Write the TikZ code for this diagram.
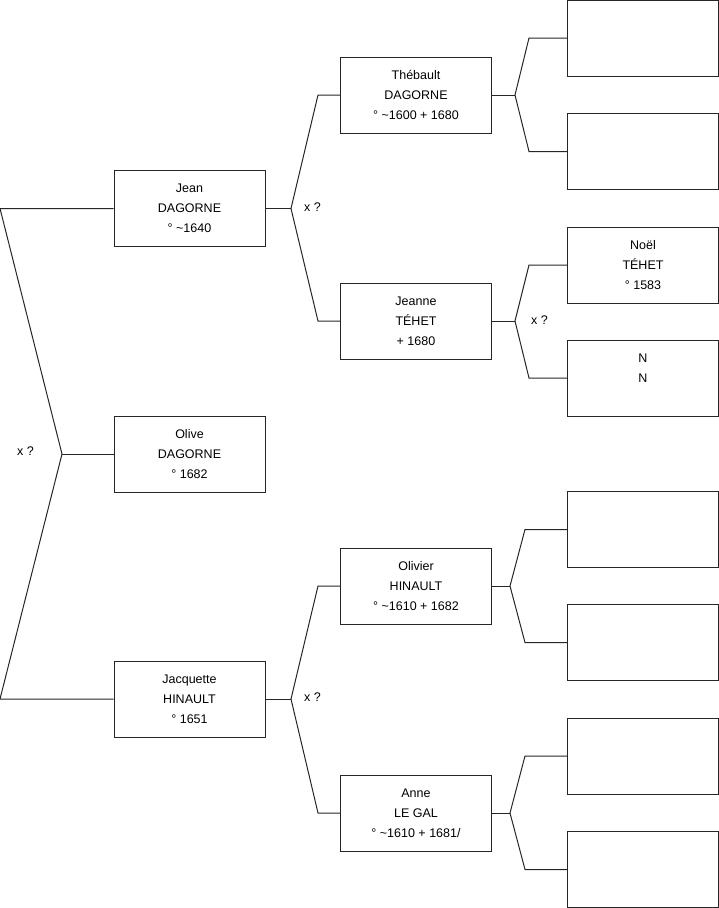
\documentclass[tikz,border=0pt]{standalone}
\usepackage{fontspec}
\setmainfont{Liberation Sans}
\usetikzlibrary{calc}
\begin{document}
\begin{tikzpicture}[x=1pt,y=-1pt,
  person/.style={draw=black!85, line width=1pt, minimum width=151pt, minimum height=76pt,
    inner sep=0pt, align=center, font=\fontsize{12.5}{20}\selectfont},
  link/.style={draw=black!85, line width=1pt},
  xlabel/.style={anchor=west, inner sep=0pt, font=\fontsize{12.5}{15}\selectfont}]
\useasboundingbox (0,0) rectangle (719,908);
% generation 1
\node[person] (olive) at (189.5,454) {Olive\\DAGORNE\\° 1682};
% generation 2
\node[person] (jean) at (189.5,208.5) {Jean\\DAGORNE\\° \textasciitilde1640};
\node[person] (jacq) at (189.5,699) {Jacquette\\HINAULT\\° 1651};
% generation 3
\node[person] (theb) at (416,95) {Thébault\\DAGORNE\\° \textasciitilde1600 + 1680};
\node[person] (jeanne) at (416,321) {Jeanne\\TÉHET\\+ 1680};
\node[person] (olivier) at (416,586) {Olivier\\HINAULT\\° \textasciitilde1610 + 1682};
\node[person] (anne) at (416,813) {Anne\\LE GAL\\° \textasciitilde1610 + 1681/};
% generation 4
\node[person] (r1) at (643,38) {};
\node[person] (r2) at (643,151.5) {};
\node[person] (r3) at (643,265) {Noël\\TÉHET\\° 1583};
\node[person] (r4) at (643,378) {N\\N\\\mbox{}};
\node[person] (r5) at (643,529.5) {};
\node[person] (r6) at (643,642.5) {};
\node[person] (r7) at (643,756) {};
\node[person] (r8) at (643,869.5) {};
% fork points
\coordinate (f0) at (62,454);
\coordinate (a0) at (0,208.5);
\coordinate (b0) at (0,699);
\coordinate (f1) at (291,208.5);
\coordinate (f2) at (291,699);
\coordinate (f3) at (515,95);
\coordinate (f4) at (515,321);
\coordinate (f5) at (510,586);
\coordinate (f6) at (510,813);
% connectors
\draw[link] (jean.west) -- (a0) -- (f0) -- (b0) -- (jacq.west);
\draw[link] (olive.west) -- (f0);
\draw[link] (jean.east) -- (f1);
\draw[link] (theb.west) -- ++(-22,0) -- (f1) -- ($(jeanne.west)+(-22,0)$) -- (jeanne.west);
\draw[link] (jacq.east) -- (f2);
\draw[link] (olivier.west) -- ++(-22,0) -- (f2) -- ($(anne.west)+(-22,0)$) -- (anne.west);
\draw[link] (theb.east) -- (f3);
\draw[link] (r1.west) -- ++(-38,0) -- (f3) -- ($(r2.west)+(-38,0)$) -- (r2.west);
\draw[link] (jeanne.east) -- (f4);
\draw[link] (r3.west) -- ++(-38,0) -- (f4) -- ($(r4.west)+(-38,0)$) -- (r4.west);
\draw[link] (olivier.east) -- (f5);
\draw[link] (r5.west) -- ++(-42,0) -- (f5) -- ($(r6.west)+(-42,0)$) -- (r6.west);
\draw[link] (anne.east) -- (f6);
\draw[link] (r7.west) -- ++(-42,0) -- (f6) -- ($(r8.west)+(-42,0)$) -- (r8.west);
% labels
\node[xlabel] (m0) at (17,451) {x ?};
\node[xlabel] (m1) at (304,207) {x ?};
\node[xlabel] (m2) at (304,697) {x ?};
\node[xlabel] (m3) at (531,320) {x ?};
\end{tikzpicture}
\end{document}
